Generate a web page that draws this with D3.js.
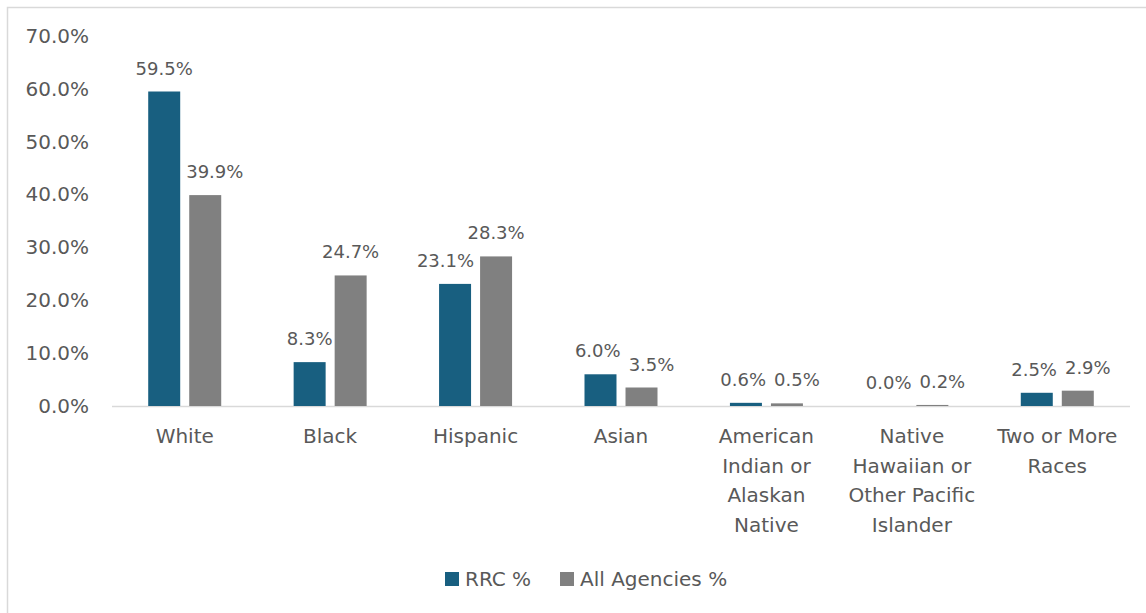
<!DOCTYPE html>
<html>
<head>
<meta charset="utf-8">
<script src="https://cdn.jsdelivr.net/npm/d3@7"></script>
<style>
  html, body { margin: 0; padding: 0; background: #fff; }
  svg { display: block; font-family: "DejaVu Sans", "Open Sans", sans-serif; }
</style>
</head>
<body>
<svg id="chart" width="1146" height="613"></svg>
<script>
const categories = [
  ["White"],
  ["Black"],
  ["Hispanic"],
  ["Asian"],
  ["American", "Indian or", "Alaskan", "Native"],
  ["Native", "Hawaiian or", "Other Pacific", "Islander"],
  ["Two or More", "Races"]
];
const seriesNames = ["RRC %", "All Agencies %"];
const rrcValues = [59.5, 8.3, 23.1, 6.0, 0.6, 0.0, 2.5];
const allAgenciesValues = [39.9, 24.7, 28.3, 3.5, 0.5, 0.2, 2.9];
const yTicks = [0, 10, 20, 30, 40, 50, 60, 70];
const colors = ["#185f80", "#808080"];

const svg = d3.select("#chart");
const textColor = "#595959";
const fontFam = "\"DejaVu Sans\", \"Open Sans\", sans-serif";

// outer frame
svg.append("rect")
  .attr("x", 7.5).attr("y", 7.5)
  .attr("width", 1160).attr("height", 630)
  .attr("fill", "none").attr("stroke", "#d9d9d9").attr("stroke-width", 1.5);

const plot = { left: 112, right: 1130, top: 36, bottom: 406 };

const x0 = d3.scaleBand()
  .domain(d3.range(categories.length))
  .range([plot.left, plot.right])
  .paddingInner(0.498)
  .paddingOuter(0.249);

const x1 = d3.scaleBand()
  .domain(seriesNames)
  .range([0, x0.bandwidth()])
  .paddingInner(0.22);

const y = d3.scaleLinear().domain([0, 70]).range([plot.bottom, plot.top]);

// y axis labels
const yAxis = d3.axisLeft(y).tickValues(yTicks).tickFormat(d => d3.format(".1f")(d) + "%").tickSize(0).tickPadding(0);
const yg = svg.append("g").attr("transform", `translate(89,0)`).call(yAxis);
yg.select(".domain").remove();
yg.selectAll("text").attr("fill", textColor).style("font-size", "20px")
  .style("font-family", fontFam);

// baseline
svg.append("line")
  .attr("x1", plot.left).attr("x2", plot.right)
  .attr("y1", y(0) + 0.5).attr("y2", y(0) + 0.5)
  .attr("stroke", "#d9d9d9").attr("stroke-width", 1.5);

const data = categories.map((c, i) => ({
  i,
  values: [
    { key: seriesNames[0], v: rrcValues[i], color: colors[0] },
    { key: seriesNames[1], v: allAgenciesValues[i], color: colors[1] }
  ]
}));

const groups = svg.append("g").selectAll("g").data(data).join("g")
  .attr("transform", d => `translate(${x0(d.i)},0)`);

groups.selectAll("rect").data(d => d.values).join("rect")
  .attr("x", d => x1(d.key))
  .attr("width", x1.bandwidth())
  .attr("y", d => y(d.v))
  .attr("height", d => y(0) - y(d.v))
  .attr("fill", d => d.color);

const labelSel = groups.selectAll("text.lbl").data(d => d.values).join("text")
  .attr("class", "lbl")
  .attr("x", d => x1(d.key) + x1.bandwidth() / 2)
  .attr("y", d => y(d.v) - 17)
  .attr("text-anchor", "middle")
  .attr("fill", textColor)
  .style("font-size", "18px")
  .text(d => d3.format(".1f")(d.v) + "%");

// simple label collision avoidance (like the spreadsheet's automatic nudging)
groups.each(function(g) {
  const labels = d3.select(this).selectAll("text.lbl").nodes();
  const [a, b] = g.values;
  const wa = labels[0].getComputedTextLength();
  const wb = labels[1].getComputedTextLength();
  let ca = x1(a.key) + x1.bandwidth() / 2;
  let cb = x1(b.key) + x1.bandwidth() / 2;
  const baseA = y(a.v) - 17, baseB = y(b.v) - 17;
  const boxA = [baseA - 17, baseA + 4], boxB = [baseB - 17, baseB + 4];
  const barAright = x1(a.key) + x1.bandwidth();
  const barBleft = x1(b.key);
  // RRC label vs All Agencies bar
  if (boxA[1] > y(b.v) && ca + wa / 2 > barBleft) ca = barBleft - 6 - wa / 2;
  // All Agencies label vs RRC bar
  if (boxB[1] > y(a.v) && cb - wb / 2 < barAright) cb = barAright + 6 + wb / 2;
  // label vs label
  if (boxA[0] < boxB[1] && boxB[0] < boxA[1]) {
    const need = (ca + wa / 2 + 8) - (cb - wb / 2);
    if (need > 0) {
      const mb = Math.min(need, 10);
      cb += mb;
      ca -= (need - mb);
    }
  }
  d3.select(labels[0]).attr("x", ca);
  d3.select(labels[1]).attr("x", cb);
});

// category labels
const xg = svg.append("g");
categories.forEach((lines, i) => {
  const t = xg.append("text")
    .attr("x", x0(i) + x0.bandwidth() / 2)
    .attr("y", 443)
    .attr("text-anchor", "middle")
    .attr("fill", textColor)
    .style("font-size", "20px");
  lines.forEach((ln, k) => {
    t.append("tspan")
      .attr("x", x0(i) + x0.bandwidth() / 2)
      .attr("dy", k === 0 ? 0 : 29.5)
      .text(ln);
  });
});

// legend
const legend = svg.append("g");
const legendItems = [
  { name: seriesNames[0], color: colors[0], x: 445 },
  { name: seriesNames[1], color: colors[1], x: 560 }
];
legendItems.forEach(it => {
  legend.append("rect").attr("x", it.x).attr("y", 572).attr("width", 14).attr("height", 14).attr("fill", it.color);
  legend.append("text").attr("x", it.x + 20).attr("y", 586)
    .attr("fill", textColor).style("font-size", "20px").text(it.name);
});
</script>
</body>
</html>
